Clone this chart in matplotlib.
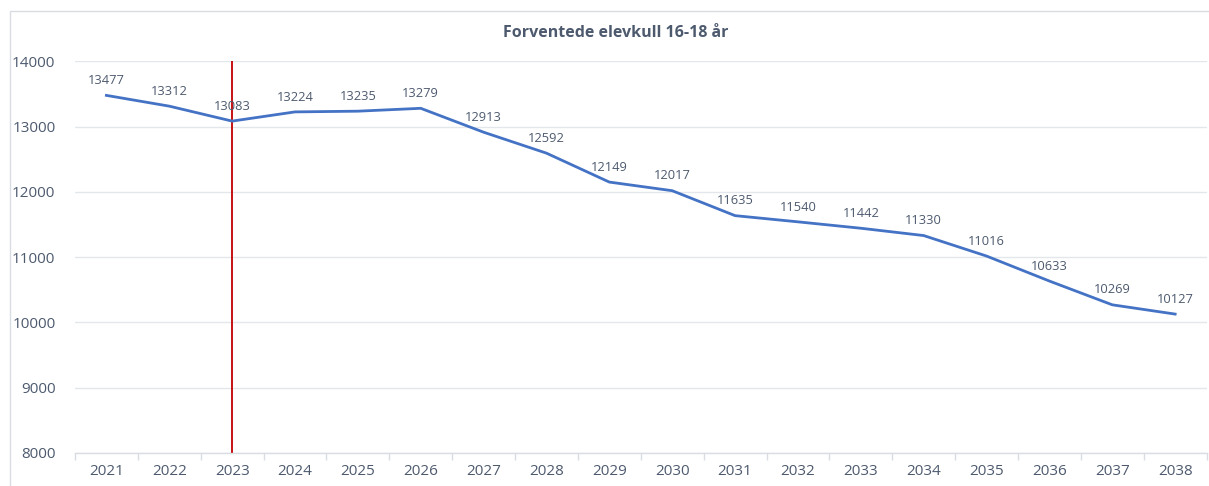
import matplotlib.pyplot as plt
from matplotlib.patches import Rectangle
import numpy as np

# data
years = [2021, 2022, 2023, 2024, 2025, 2026, 2027, 2028, 2029,
         2030, 2031, 2032, 2033, 2034, 2035, 2036, 2037, 2038]
students = [13477, 13312, 13083, 13224, 13235, 13279, 12913, 12592, 12149,
            12017, 11635, 11540, 11442, 11330, 11016, 10633, 10269, 10127]
marker_year = 2023
title = "Forventede elevkull 16-18 år"

plt.rcParams['font.family'] = ['Open Sans', 'DejaVu Sans']
text_col = '#4d5a6e'
grid_col = '#e3e6ea'

fig = plt.figure(figsize=(12.09, 4.86), dpi=100)
ax = fig.add_axes([0.062, 0.068, 0.936, 0.806])

x = np.arange(len(years))
ax.plot(x, students, color='#4472C4', linewidth=2.0, zorder=3)

# data labels above each point
for xi, v in zip(x, students):
    ax.annotate(str(v), (xi, v), xytext=(0, 6), textcoords='offset points',
                ha='center', va='bottom', fontsize=9.3, color=text_col, zorder=4)

# red vertical line marking the current year
mx = years.index(marker_year)
ax.axvline(mx, ymin=0, ymax=1, color='#C00000', linewidth=1.3, zorder=2)

ax.set_xlim(-0.5, len(years) - 0.5)
ax.set_ylim(8000, 14000)
ax.set_yticks(np.arange(8000, 14001, 1000))
ax.set_xticks(x)
ax.set_xticklabels([str(y) for y in years])
ax.set_xticks(np.arange(-0.5, len(years), 1), minor=True)

ax.grid(axis='y', color=grid_col, linewidth=1.0, zorder=0)
for s in ['top', 'right', 'left']:
    ax.spines[s].set_visible(False)
ax.spines['bottom'].set_color('#d9dce1')
ax.spines['bottom'].set_linewidth(1.0)

ax.tick_params(axis='x', which='major', length=0, pad=8, labelsize=11, labelcolor=text_col)
ax.tick_params(axis='x', which='minor', length=5, color='#d9dce1', width=1.0)
ax.tick_params(axis='y', length=0, pad=14, labelsize=11, labelcolor=text_col)

fig.text(0.509, 0.932, title, ha='center', va='center', fontsize=11.5,
         fontweight='bold', color=text_col)

# chart border
fig.patches.append(Rectangle((10 / 1209, -0.05), 1.0, 1 - 11 / 486 + 0.05,
                             transform=fig.transFigure, fill=False,
                             edgecolor='#d9dce1', linewidth=1.0))

fig.savefig('out.png', dpi=100)
